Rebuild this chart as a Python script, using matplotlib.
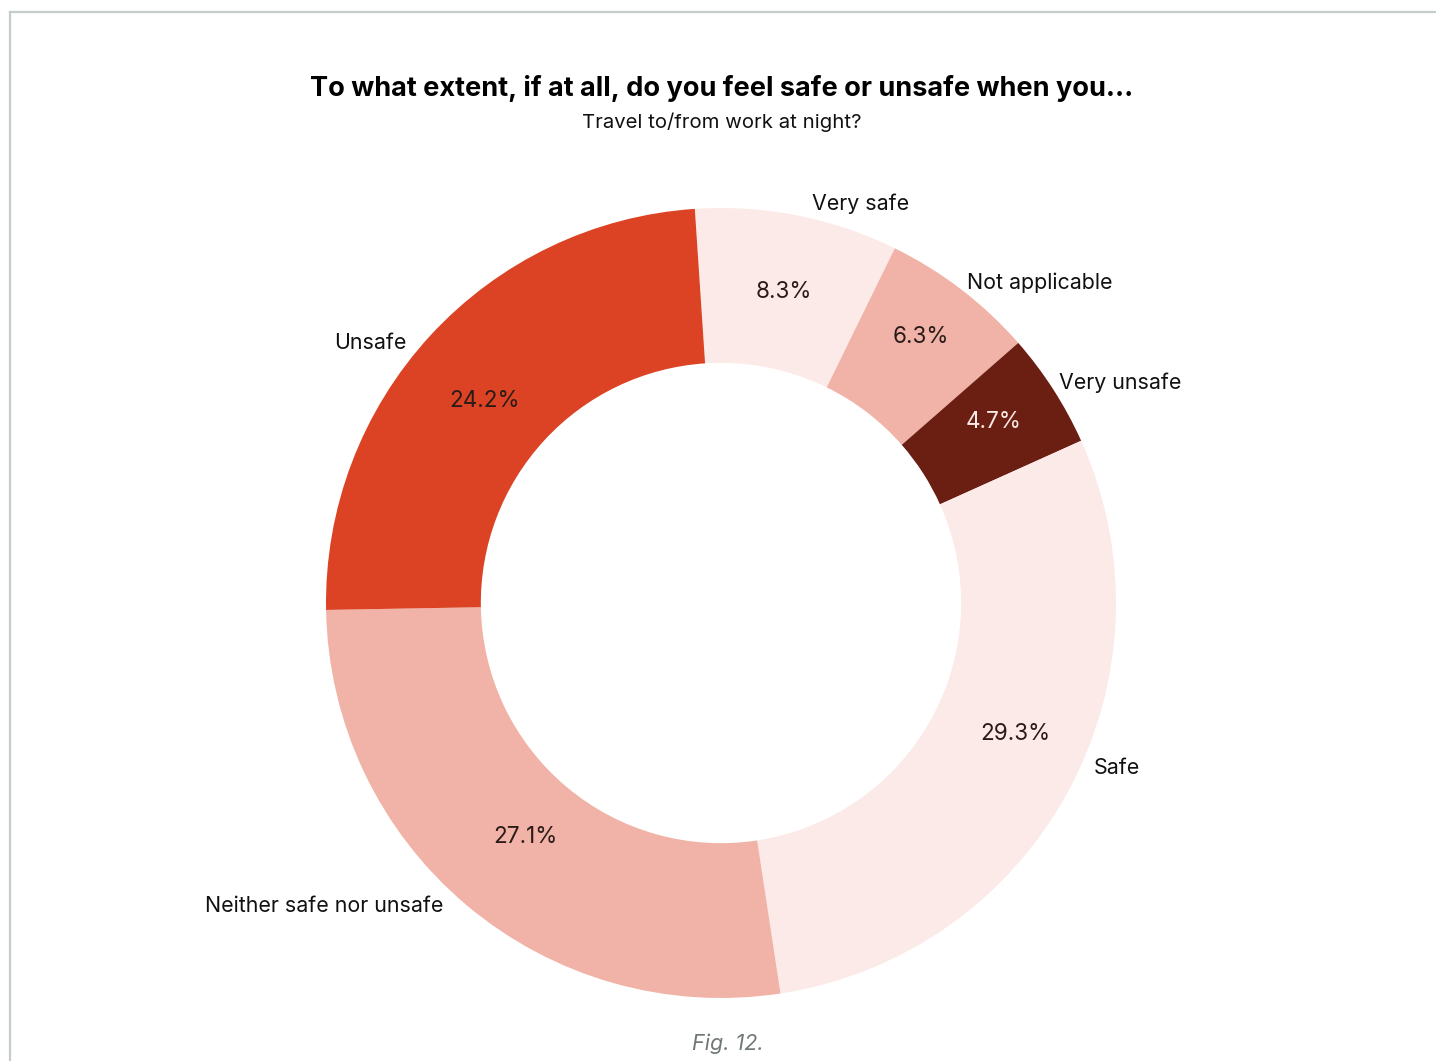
import numpy as np
import matplotlib
matplotlib.use("Agg")
import matplotlib.pyplot as plt
from matplotlib.lines import Line2D

plt.rcParams["font.family"] = ["Inter", "DejaVu Sans"]

# survey answers, clockwise from the top
categories = ["Very safe", "Not applicable", "Very unsafe", "Safe",
              "Neither safe nor unsafe", "Unsafe"]
shares = [8.3, 6.3, 4.7, 29.3, 27.1, 24.2]
colors = ["#FBEAE7", "#F1B3A7", "#6B1F12", "#FBEAE7", "#F1B3A7", "#DC4324"]
pct_colors = ["#2A1B18", "#2A1B18", "#FBEAE7", "#2A1B18", "#2A1B18", "#2A1B18"]

# small hand nudges (pixels) so labels don't sit exactly on the bisector
label_nudge = [(12, -2), (-3, -4), (-6, -1), (14, 30), (-14, 9), (-14, -17)]
pct_nudge = [(2, 1), (8, 15), (7, 10), (17, 20), (8, 7), (-4, -12)]

W, H = 1436, 1061
fig = plt.figure(figsize=(W / 100, H / 100), dpi=100)

# thin frame along the top and left edge
fig.add_artist(Line2D([10 / W, 1], [1 - 12 / H, 1 - 12 / H], color="#C5CDC9",
                      lw=1.6, transform=fig.transFigure))
fig.add_artist(Line2D([10 / W, 10 / W], [0, 1 - 12 / H], color="#C5CDC9",
                      lw=1.6, transform=fig.transFigure))

R = 395
cx, cy = 721, H - 603
ax = fig.add_axes([(cx - R) / W, (cy - R) / H, 2 * R / W, 2 * R / H])

wedges, texts = ax.pie(
    shares,
    labels=categories,
    colors=colors,
    startangle=93.8,
    counterclock=False,
    labeldistance=1.035,
    wedgeprops=dict(width=0.392, linewidth=0),
    textprops=dict(fontsize=15.4, color="#111111"),
)
ax.set_xlim(-1, 1)
ax.set_ylim(-1, 1)
ax.set_aspect("equal")

for t, (dx, dy) in zip(texts, label_nudge):
    x, y = t.get_position()
    t.set_position((x + dx / R, y + dy / R))

for w, v, c, (dx, dy) in zip(wedges, shares, pct_colors, pct_nudge):
    ang = np.deg2rad((w.theta1 + w.theta2) / 2)
    ax.text(0.8 * np.cos(ang) + dx / R, 0.8 * np.sin(ang) + dy / R, f"{v:.1f}%",
            ha="center", va="center", fontsize=16.2, color=c)

fig.text(722 / W, 1 - 88 / H, "To what extent, if at all, do you feel safe or unsafe when you...",
         ha="center", va="center", fontsize=19.5, fontweight="bold", color="#000000")
fig.text(722 / W, 1 - 122 / H, "Travel to/from work at night?",
         ha="center", va="center", fontsize=14.6, color="#111111")
fig.text(728 / W, 1 - 1044 / H, "Fig. 12.", ha="center", va="center",
         fontsize=15.5, style="italic", color="#6F7874")

fig.savefig("out.png", dpi=100)
